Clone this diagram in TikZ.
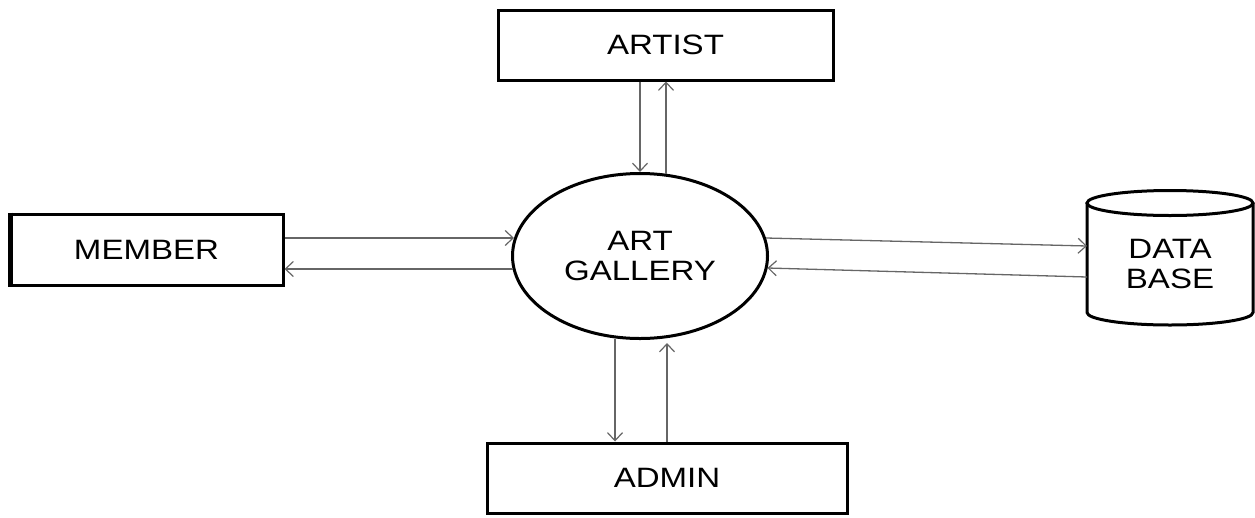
\documentclass[tikz,border=0pt]{standalone}
\usepackage{fontspec}
\setmainfont{Liberation Sans}
\usetikzlibrary{arrows.meta,shapes.geometric}
\newcommand{\hstretch}[1]{\scalebox{1.18}[1]{#1}}
\tikzset{
  box/.style={draw, line width=3pt, rectangle, inner sep=0pt},
  lbl/.style={font=\fontsize{28}{30}\selectfont, align=center},
  flow/.style={draw=black!60, line width=1.3pt,
    -{Straight Barb[length=8pt,width=15pt,line width=1.2pt]}},
  thickline/.style={line width=3pt},
}
\begin{document}
\begin{tikzpicture}[x=1pt,y=-1pt]
\useasboundingbox (0,0) rectangle (1255,517);
% entities
\node[box, lbl, minimum width=335pt, minimum height=70pt] (artist) at (665.5,45) {\hstretch{ARTIST}};
\node[box, lbl, minimum width=273pt, minimum height=71pt] (member) at (146.5,249.5) {\hstretch{MEMBER}};
\node[box, lbl, minimum width=360pt, minimum height=70pt] (admin) at (667,478) {\hstretch{ADMIN}};
\draw[line width=5pt] ([xshift=1.5pt]member.north west) -- ([xshift=1.5pt]member.south west);
% process
\node[draw, ellipse, line width=3pt, inner sep=0pt, minimum width=255pt, minimum height=165pt, lbl] (gallery) at (640,256) {\hstretch{ART}\\\hstretch{GALLERY}};
% data store
\node[inner sep=0pt, outer sep=0pt, minimum width=166pt, minimum height=122pt, lbl] (db) at (1170,264) {\hstretch{DATA}\\\hstretch{BASE}};
\draw[thickline] (db.north west) -- ([yshift=12.5pt]db.south west)
  arc[start angle=180, end angle=360, x radius=83pt, y radius=12.5pt]
  -- (db.north east);
\draw[thickline] (db.north) ellipse [x radius=83pt, y radius=12.5pt];
% flows artist
\draw[flow] (artist.south -| gallery.north) -- (gallery.north);
\draw[flow] ([xshift=26pt,yshift=-1.5pt]gallery.north) -- ([xshift=26pt]gallery.north |- artist.south);
% flows member
\draw[flow] ([yshift=11.5pt]member.east) -- ([xshift=3pt,yshift=18pt]gallery.west);
\draw[flow] ([xshift=1.5pt,yshift=-13pt]gallery.west) -- ([yshift=-19.5pt]member.east);
% flows database
\draw[flow] ([xshift=-3pt,yshift=18pt]gallery.east) -- ([yshift=18pt]db.west);
\draw[flow] ([yshift=-13pt]db.west) -- ([xshift=-1.5pt,yshift=-12pt]gallery.east);
% flows admin
\draw[flow] ([xshift=-25pt,yshift=1.5pt]gallery.south) -- ([xshift=-25pt]gallery.south |- admin.north);
\draw[flow] ([xshift=27pt]gallery.south |- admin.north) -- ([xshift=27pt,yshift=-3pt]gallery.south);
\end{tikzpicture}
\end{document}
